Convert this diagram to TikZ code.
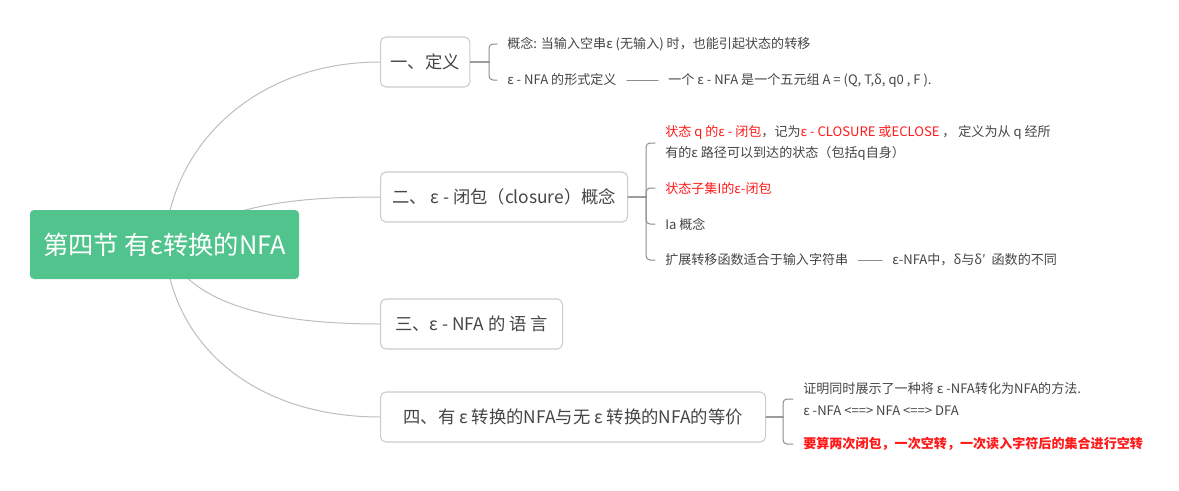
\documentclass[tikz,border=0pt]{standalone}
\usepackage{fontspec}
\setmainfont{Noto Sans CJK SC}
\usetikzlibrary{backgrounds}

\definecolor{rootgreen}{HTML}{51C48E}
\definecolor{inkgray}{HTML}{454545}
\definecolor{boxline}{HTML}{CCCCCC}
\definecolor{curveline}{HTML}{BDBDBD}
\definecolor{braceline}{HTML}{8C8C8C}
\definecolor{hotred}{HTML}{FF1A1A}

\begin{document}
\begin{tikzpicture}[
  x=0.75pt,
  y=-0.75pt,
  line cap=round,
  line join=round,
  root/.style={
    rectangle,
    rounded corners=3pt,
    fill=rootgreen,
    text=white,
    minimum width=201.75pt,
    minimum height=51.75pt,
    inner sep=0pt,
    font=\fontsize{19}{22}\selectfont
  },
  topic/.style={
    rectangle,
    rounded corners=4pt,
    draw=boxline,
    fill=white,
    text=inkgray,
    line width=0.8pt,
    minimum height=37.5pt,
    inner xsep=7.5pt,
    anchor=west,
    font=\fontsize{13}{16}\selectfont
  },
  leaf/.style={
    anchor=west,
    inner xsep=7.5pt,
    inner ysep=0pt,
    text=inkgray,
    align=left,
    font=\fontsize{9.8}{16}\selectfont
  },
  curve/.style={draw=curveline,line width=0.75pt},
  stub/.style={draw=braceline!85,line width=1.2pt},
  brace/.style={draw=braceline,line width=0.75pt,rounded corners=3pt},
  dashline/.style={draw=braceline,line width=0.75pt}
]
\useasboundingbox (0,0) rectangle (1179,490);

\node[root] (root) at (164.5,244.5) {第四节 有ε转换的NFA};

\node[topic,minimum width=66.75pt]  (b1) at (380,62)  {一、定义};
\node[topic,minimum width=185.25pt] (b2) at (380,197) {二、 ε - 闭包（closure）概念};
\node[topic,minimum width=136.5pt]  (b3) at (380,324) {三、ε - NFA 的 语 言};
\node[topic,minimum width=288.75pt] (b4) at (380,417) {四、有 ε 转换的NFA与无 ε 转换的NFA的等价};

% root to the four topics, drawn behind the root box
\begin{pgfonlayer}{background}
  \draw[curve] (root.center) .. controls +(7.5,-104.5) and +(-120,0) .. (b1.west);
  \draw[curve] (root.center) .. controls +(65.5,-39.5) and +(-90,0) .. (b2.west);
  \draw[curve] (root.center) .. controls +(20.5,55.5) and +(-120,0) .. (b3.west);
  \draw[curve] (root.center) .. controls +(7.5,105.5) and +(-120,0) .. (b4.west);
\end{pgfonlayer}

% 一、定义
\coordinate (k1) at (489,62);
\node[leaf] (l11)  at (497,44) {概念: 当输入空串ε (无输入) 时，也能引起状态的转移};
\node[leaf] (l12)  at (497,80) {ε - NFA 的形式定义};
\node[leaf] (l12b) at (658,80) {一个 ε - NFA 是一个五元组 A = (Q, T,δ, q0 , F ).};

\draw[stub]  (b1.east) -- (k1);
\draw[brace] (k1) |- (l11.west);
\draw[brace] (k1) |- (l12.west);
\draw[dashline] (l12.east) -- (l12b.west);

% 二、闭包
\coordinate (k2) at (646,197);
\node[leaf] (l21) at (655,143) {\textcolor{hotred}{状态 q 的ε - 闭包}，记为\textcolor{hotred}{ε - CLOSURE 或ECLOSE} ， 定义为从 q 经所\\有的ε 路径可以到达的状态（包括q自身）};
\node[leaf,text=hotred] (l22) at (655,188) {状态子集I的ε-闭包};
\node[leaf] (l23)  at (655,224) {Ia 概念};
\node[leaf] (l24)  at (655,260) {扩展转移函数适合于输入字符串};
\node[leaf] (l24b) at (882,260) {ε-NFA中，δ与δ′ \ 函数的不同};

\draw[stub]  (b2.east) -- (k2);
\draw[brace] (k2) |- (l21.west);
\draw[brace] (k2) |- (l22.west);
\draw[brace] (k2) |- (l23.west);
\draw[brace] (k2) |- (l24.west);
\draw[dashline] (l24.east) -- (l24b.west);

% 四、等价
\coordinate (k4) at (783,417);
\node[leaf] (l41) at (793,399) {证明同时展示了一种将 ε -NFA转化为NFA的方法.\\ε -NFA <==> NFA <==> DFA};
\node[leaf,text=hotred,font=\fontsize{9.8}{16}\selectfont\bfseries] (l42) at (793,444) {要算两次闭包，一次空转，一次读入字符后的集合进行空转};

\draw[stub]  (b4.east) -- (k4);
\draw[brace] (k4) |- (l41.west);
\draw[brace] (k4) |- (l42.west);

\end{tikzpicture}
\end{document}
